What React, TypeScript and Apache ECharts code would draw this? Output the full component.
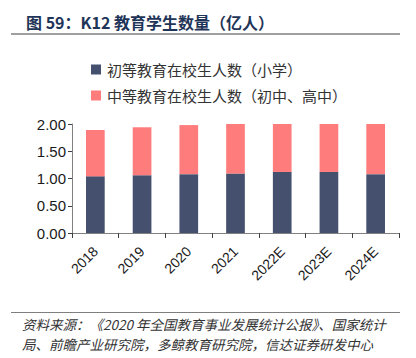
import React, { useEffect, useRef } from "react";
import * as echarts from "echarts";

const categories = ["2018", "2019", "2020", "2021", "2022E", "2023E", "2024E"];
const primary = [1.04, 1.06, 1.08, 1.09, 1.12, 1.12, 1.08];
const secondary = [0.85, 0.88, 0.9, 0.91, 0.88, 0.88, 0.92];
const seriesNames = ["初等教育在校生人数（小学）", "中等教育在校生人数（初中、高中）"];
const titleText = "图 59：K12 教育学生数量（亿人）";
const sourceLine1 = "资料来源：《2020 年全国教育事业发展统计公报》、国家统计";
const sourceLine2 = "局、前瞻产业研究院，多鲸教育研究院，信达证券研发中心";

const FONT = "'Liberation Sans', Arial, 'Noto Sans CJK SC', sans-serif";
const CJK = "'Noto Sans CJK SC', sans-serif";

export default function App() {
  const ref = useRef<HTMLDivElement>(null);
  useEffect(() => {
    if (!ref.current) return;
    const chart = echarts.init(ref.current, null, { renderer: "svg" });
    chart.setOption({
      animation: false,
      backgroundColor: "#ffffff",
      title: {
        text: titleText,
        left: 21,
        top: 9,
        textStyle: { fontFamily: CJK, fontSize: 16, fontWeight: "bold", color: "#1f3558" },
      },
      legend: {
        orient: "vertical",
        left: 86,
        top: 57,
        itemWidth: 10,
        itemHeight: 10,
        itemGap: 11,
        icon: "rect",
        textStyle: { fontFamily: CJK, fontSize: 15, color: "#333333", padding: [0, 0, 0, 1] },
        data: seriesNames,
      },
      grid: { left: 72, right: 17, top: 124, bottom: 125, containLabel: false },
      xAxis: {
        type: "category",
        data: categories,
        axisLine: { lineStyle: { color: "#808080", width: 1 } },
        axisTick: { show: true, length: 5, lineStyle: { color: "#404040" } },
        axisLabel: { rotate: 45, fontFamily: FONT, fontSize: 14, color: "#1a1a1a", margin: 16 },
      },
      yAxis: {
        type: "value",
        min: 0,
        max: 2,
        interval: 0.5,
        axisLine: { show: true, lineStyle: { color: "#808080" } },
        axisTick: { show: true, length: 4, lineStyle: { color: "#404040" } },
        splitLine: { show: false },
        axisLabel: {
          fontFamily: FONT,
          fontSize: 15,
          color: "#1a1a1a",
          margin: 6,
          formatter: (v: number) => v.toFixed(2),
        },
      },
      series: [
        {
          name: seriesNames[0],
          type: "bar",
          stack: "total",
          barWidth: "40%",
          itemStyle: { color: "#44506e" },
          data: primary,
        },
        {
          name: seriesNames[1],
          type: "bar",
          stack: "total",
          barWidth: "40%",
          itemStyle: { color: "#ff7c7c" },
          data: secondary,
        },
      ],
      graphic: [
        {
          type: "line",
          shape: { x1: 11, y1: 34, x2: 400, y2: 34 },
          style: { stroke: "#7f7f7f", lineWidth: 1.5 },
        },
        {
          type: "line",
          shape: { x1: 11, y1: 312.5, x2: 400, y2: 312.5 },
          style: { stroke: "#7f7f7f", lineWidth: 1 },
        },
        {
          type: "text",
          x: 22,
          y: 324,
          style: {
            text: sourceLine1,
            fontFamily: CJK,
            fontSize: 13.5,
            fontStyle: "italic",
            fill: "#333333",
            textVerticalAlign: "middle",
          },
        },
        {
          type: "text",
          x: 22,
          y: 344,
          style: {
            text: sourceLine2,
            fontFamily: CJK,
            fontSize: 13.5,
            fontStyle: "italic",
            fill: "#333333",
            textVerticalAlign: "middle",
          },
        },
      ],
    });
    return () => chart.dispose();
  }, []);
  return <div ref={ref} style={{ width: 416, height: 358, position: "absolute", left: 0, top: 0 }} />;
}
